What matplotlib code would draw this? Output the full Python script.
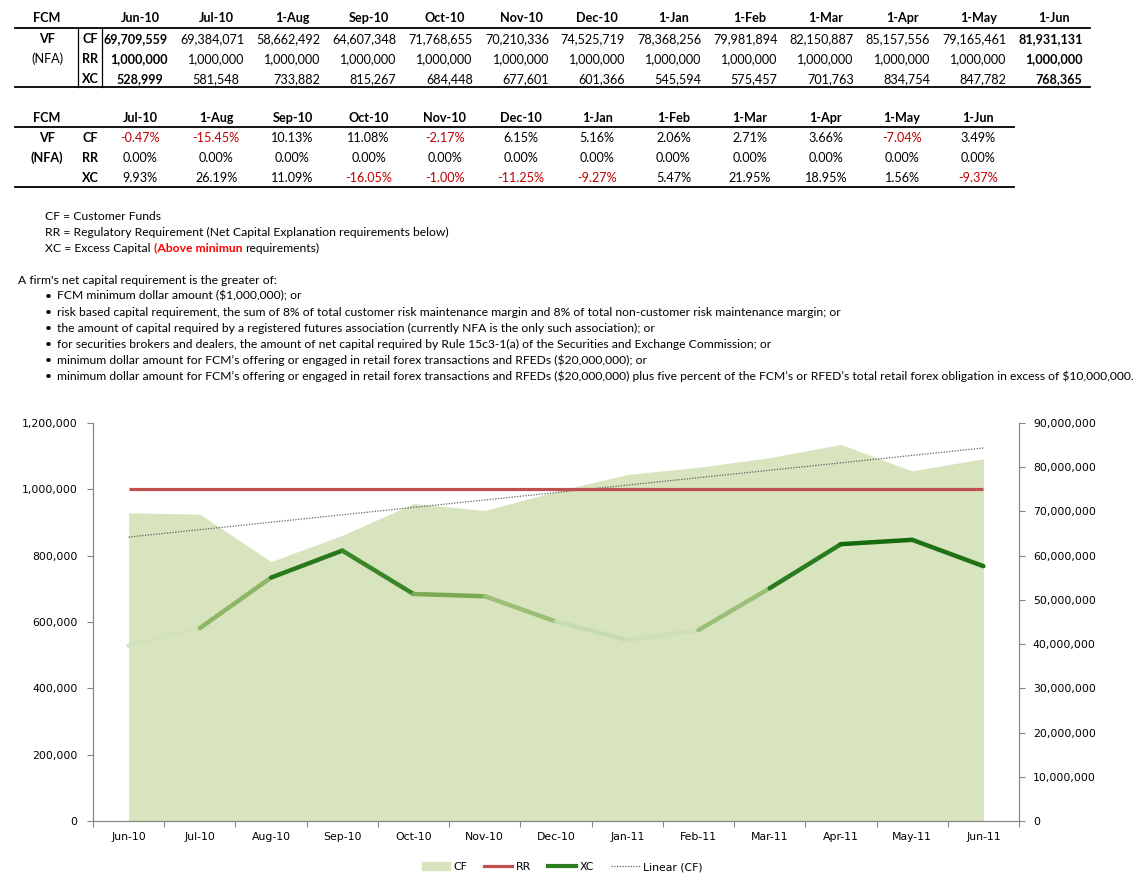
import matplotlib
matplotlib.use('Agg')
import matplotlib.pyplot as plt
import numpy as np
from matplotlib.collections import LineCollection
from matplotlib.colors import LinearSegmentedColormap, Normalize
from matplotlib.lines import Line2D
from matplotlib.patches import Patch

# table / chart data
table_months = ['Jun-10', 'Jul-10', '1-Aug', 'Sep-10', 'Oct-10', 'Nov-10', 'Dec-10',
                '1-Jan', '1-Feb', '1-Mar', '1-Apr', '1-May', '1-Jun']
chart_months = ['Jun-10', 'Jul-10', 'Aug-10', 'Sep-10', 'Oct-10', 'Nov-10', 'Dec-10',
                'Jan-11', 'Feb-11', 'Mar-11', 'Apr-11', 'May-11', 'Jun-11']
cf = [69709559, 69384071, 58662492, 64607348, 71768655, 70210336, 74525719,
      78368256, 79981894, 82150887, 85157556, 79165461, 81931131]
rr = [1000000] * 13
xc = [528999, 581548, 733882, 815267, 684448, 677601, 601366,
      545594, 575457, 701763, 834754, 847782, 768365]

cf_pct = [-0.47, -15.45, 10.13, 11.08, -2.17, 6.15, 5.16, 2.06, 2.71, 3.66, -7.04, 3.49]
rr_pct = [0.00] * 12
xc_pct = [9.93, 26.19, 11.09, -16.05, -1.00, -11.25, -9.27, 5.47, 21.95, 18.95, 1.56, -9.37]

notes = ['CF = Customer Funds',
         'RR = Regulatory Requirement (Net Capital Explanation requirements below)']
intro = "A firm's net capital requirement is the greater of:"
bullets = [
    'FCM minimum dollar amount ($1,000,000); or',
    'risk based capital requirement, the sum of 8% of total customer risk maintenance margin and 8% of total non-customer risk maintenance margin; or',
    'the amount of capital required by a registered futures association (currently NFA is the only such association); or',
    'for securities brokers and dealers, the amount of net capital required by Rule 15c3-1(a) of the Securities and Exchange Commission; or',
    'minimum dollar amount for FCM\u2019s offering or engaged in retail forex transactions and RFEDs ($20,000,000); or',
    'minimum dollar amount for FCM\u2019s offering or engaged in retail forex transactions and RFEDs ($20,000,000) plus five percent of the FCM\u2019s or RFED\u2019s total retail forex obligation in excess of $10,000,000.',
]

W, H = 1133, 892
fig = plt.figure(figsize=(W / 100, H / 100), dpi=100)
plt.rcParams['text.parse_math'] = False

TABLE_FS = 9.1
NOTE_FS = 8.75


def fx(x):
    return x / W


def fy(y):
    return 1 - y / H


def txt(x, y, s, **kw):
    kw.setdefault('family', 'Lato')
    kw.setdefault('fontsize', TABLE_FS)
    kw.setdefault('va', 'center')
    return fig.text(fx(x), fy(y), s, **kw)


def hline(x0, x1, y, lw=1.3):
    fig.add_artist(Line2D([fx(x0), fx(x1)], [fy(y), fy(y)], color='black', lw=lw))


def vline(x, y0, y1, lw=0.9):
    fig.add_artist(Line2D([fx(x), fx(x)], [fy(y0), fy(y1)], color='black', lw=lw))


# ---- table 1: values
right = [168 + 76.2 * i for i in range(13)]
txt(47, 18, 'FCM', ha='center', weight='bold')
for i, m in enumerate(table_months):
    txt(right[i] - 28, 18, m, ha='center', weight='bold')
hline(15, 1090, 28)
hline(15, 1090, 87)
vline(78, 28, 87)
vline(102, 28, 87)
txt(47, 39, 'VF', ha='center', weight='bold')
txt(47, 59, '(NFA)', ha='center')
rows = [('CF', cf, 39), ('RR', rr, 59), ('XC', xc, 79)]
for lab, vals, y in rows:
    txt(90, y, lab, ha='center', weight='bold')
    for i, v in enumerate(vals):
        w = 'bold' if i in (0, 12) else 'normal'
        if lab == 'XC' and i in (0, 1):
            txt(right[i] - 28, y, f'{v:,}', ha='center', weight=w)
        else:
            txt(right[i], y, f'{v:,}', ha='right', weight=w)

# ---- table 2: % change
txt(47, 118, 'FCM', ha='center', weight='bold')
for i, m in enumerate(table_months[1:]):
    txt(140 + 76.2 * i, 118, m, ha='center', weight='bold')
hline(15, 1014, 127)
hline(15, 1014, 187)
txt(47, 138, 'VF', ha='center', weight='bold')
txt(47, 158, '(NFA)', ha='center', weight='bold')
for lab, vals, y in [('CF', cf_pct, 138), ('RR', rr_pct, 158), ('XC', xc_pct, 178)]:
    txt(90, y, lab, ha='center', weight='bold')
    for i, v in enumerate(vals):
        col = '#c00000' if v < 0 else 'black'
        txt(140 + 76.2 * i, y, f'{v:.2f}%', ha='center', color=col)

# ---- notes
renderer = fig.canvas.get_renderer()
for k, s in enumerate(notes):
    txt(45, 216 + 16 * k, s, fontsize=NOTE_FS)
t1 = txt(45, 248, 'XC = Excess Capital', fontsize=NOTE_FS)
x1 = t1.get_window_extent(renderer).x1
t2 = txt(x1 + 3, 248, '(Above minimun', fontsize=NOTE_FS, weight='bold', color='#ff0000')
x2 = t2.get_window_extent(renderer).x1
txt(x2 + 3, 248, 'requirements)', fontsize=NOTE_FS)

txt(18, 280, intro, fontsize=NOTE_FS)
for k, s in enumerate(bullets):
    txt(48, 296 + 16 * k, '\u2022', fontsize=NOTE_FS, ha='center')
    txt(57, 296 + 16 * k, s, fontsize=NOTE_FS)

# ---- chart
axis_col = '#868686'
ax = fig.add_axes([fx(93), fy(821), (1019 - 93) / W, (821 - 423) / H])
ax2 = ax.twinx()
x = np.arange(len(chart_months))

ax2.fill_between(x, cf, color='#d7e4bd', lw=0)
coef = np.polyfit(x, cf, 1)
ax2.plot(x, np.polyval(coef, x), color='#606060', lw=0.9, ls=(0, (1, 1.2)))
ax2.set_ylim(0, 90000000)
ax2.set_yticks(range(0, 90000001, 10000000))
ax2.set_yticklabels([f'{v:,}' for v in range(0, 90000001, 10000000)])

ax.set_zorder(ax2.get_zorder() + 1)
ax.patch.set_visible(False)
ax.plot(x, rr, color='#c0504d', lw=2.3, solid_capstyle='butt')

# XC line shaded by value, light for low values and dark green for high ones
cmap = LinearSegmentedColormap.from_list(
    'xc', ['#dfebd2', '#b4cf92', '#74a64c', '#2a7b1f', '#136a0c'])
norm = Normalize(min(xc), max(xc))
pts = np.column_stack([x, xc])
segs = np.stack([pts[:-1], pts[1:]], axis=1)
seg_vals = (np.array(xc[:-1]) + np.array(xc[1:])) / 2
lc = LineCollection(segs, colors=cmap(norm(seg_vals)), linewidths=3.2,
                    capstyle='round', joinstyle='round')
ax.add_collection(lc)

ax.set_xlim(-0.5, len(x) - 0.5)
ax.set_ylim(0, 1200000)
ax.set_yticks(range(0, 1200001, 200000))
ax.set_yticklabels([f'{v:,}' for v in range(0, 1200001, 200000)])
ax.set_xticks(np.arange(-0.5, len(x), 1))
ax.set_xticklabels([])
ax.set_xticks(x, minor=True)
ax.set_xticklabels(chart_months, minor=True)

for a in (ax, ax2):
    a.spines['top'].set_visible(False)
    for sp in ('left', 'right', 'bottom'):
        a.spines[sp].set_color(axis_col)
ax.tick_params(axis='x', which='major', length=4, color=axis_col)
ax.tick_params(axis='x', which='minor', length=0, pad=8, labelsize=7.8)
ax.tick_params(axis='y', length=4, color=axis_col, pad=7, labelsize=7.8)
ax2.tick_params(axis='y', length=4, color=axis_col, pad=6, labelsize=7.8)

handles = [Patch(color='#d7e4bd'),
           Line2D([], [], color='#c0504d', lw=2.3),
           Line2D([], [], color='#2f7d22', lw=3),
           Line2D([], [], color='#606060', lw=0.9, ls=(0, (1, 1.2)))]
fig.legend(handles, ['CF', 'RR', 'XC', 'Linear (CF)'], loc='center',
           bbox_to_anchor=(fx(562), fy(867)), ncol=4, frameon=False,
           fontsize=7.8, handlelength=2.6, handletextpad=0.3, columnspacing=1.6)

fig.savefig('out.png', dpi=100)
